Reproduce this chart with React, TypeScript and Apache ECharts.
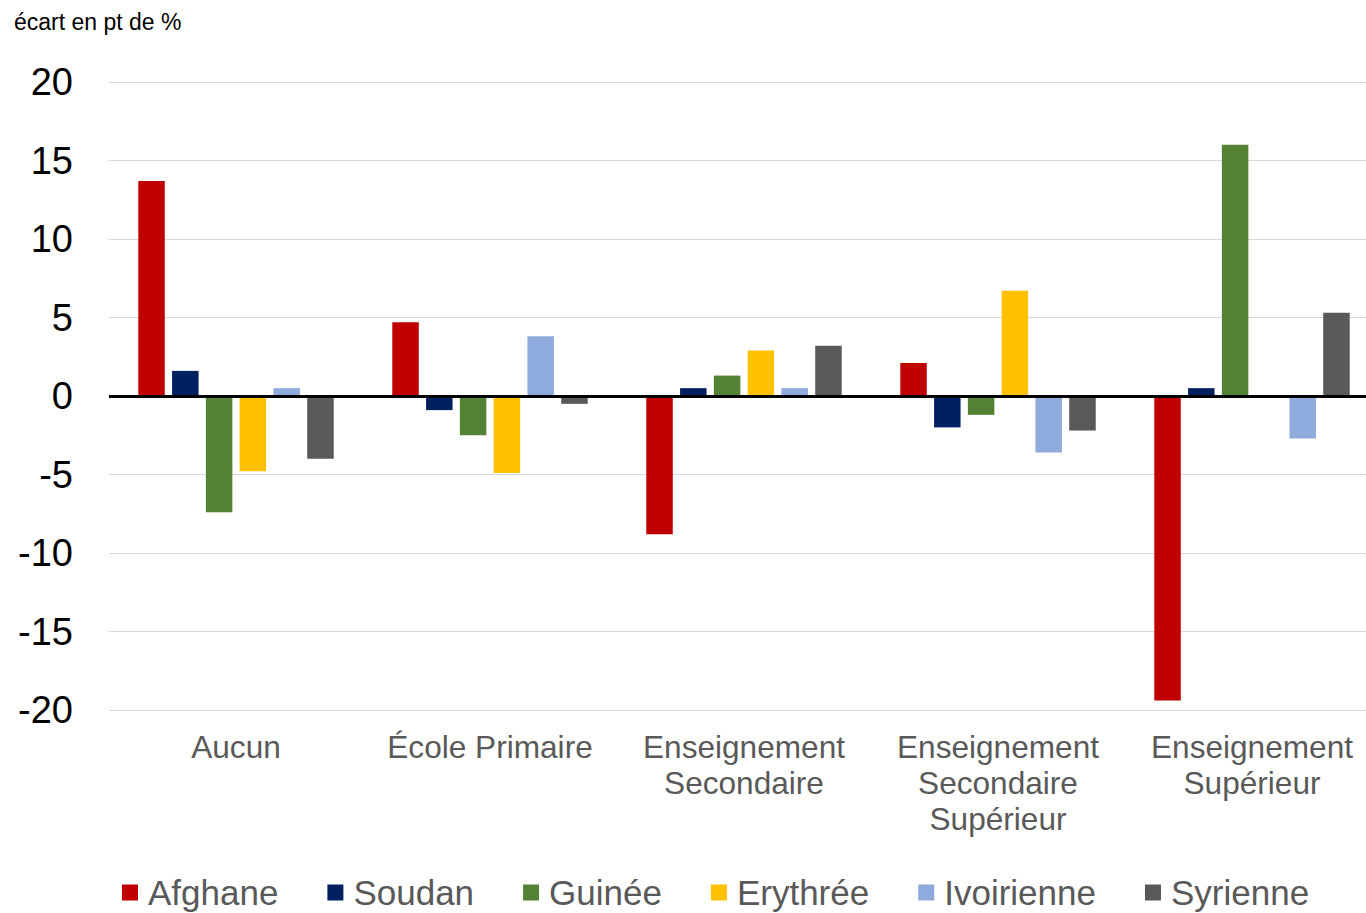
import React, { useEffect, useRef } from "react";
import * as echarts from "echarts";

const categories = [
  "Aucun",
  "École Primaire",
  "Enseignement\nSecondaire",
  "Enseignement\nSecondaire\nSupérieur",
  "Enseignement\nSupérieur",
];

const seriesNames = ["Afghane", "Soudan", "Guinée", "Erythrée", "Ivoirienne", "Syrienne"];
const seriesColors = ["#C00000", "#002060", "#548235", "#FFC000", "#8FAADC", "#595959"];

const afghane = [13.7, 4.7, -8.8, 2.1, -19.4];
const soudan = [1.6, -0.9, 0.5, -2.0, 0.5];
const guinee = [-7.4, -2.5, 1.3, -1.2, 16.0];
const erythree = [-4.8, -4.9, 2.9, 6.7, -0.1];
const ivoirienne = [0.5, 3.8, 0.5, -3.6, -2.7];
const syrienne = [-4.0, -0.5, 3.2, -2.2, 5.3];

const seriesValues = [afghane, soudan, guinee, erythree, ivoirienne, syrienne];

const yTicks = { min: -20, max: 20, interval: 5 };

const FONT = "'Liberation Sans', Arial, sans-serif";

export default function App() {
  const ref = useRef<HTMLDivElement>(null);

  useEffect(() => {
    if (!ref.current) return;
    const chart = echarts.init(ref.current, undefined, { renderer: "svg" });
    const series: any[] = seriesNames.map((name, i) => ({
      name,
      type: "bar",
      data: seriesValues[i],
      barWidth: 26.5,
      barGap: "27.5%",
      itemStyle: { color: seriesColors[i] },
      ...(i === 0
        ? {
            markLine: {
              silent: true,
              symbol: ["none", "none"],
              label: { show: false },
              lineStyle: { color: "#000", width: 3, type: "solid" },
              data: [{ yAxis: 0 }],
              z: 10,
            },
          }
        : {}),
    }));

    chart.setOption({
      animation: false,
      textStyle: { fontFamily: FONT },
      title: {
        text: "écart en pt de %",
        left: 9,
        top: 5,
        textStyle: { fontFamily: FONT, fontSize: 23, fontWeight: "normal", color: "#000" },
      },
      grid: { left: 109, right: 0, top: 82, bottom: 203, containLabel: false },
      legend: {
        left: 117,
        top: 870,
        itemWidth: 16,
        itemHeight: 16,
        itemGap: 49,
        icon: "rect",
        textStyle: { fontFamily: FONT, fontSize: 35, color: "#595959", padding: [0, 0, 0, 5] },
        data: seriesNames,
      },
      xAxis: {
        type: "category",
        data: categories,
        axisLine: { show: false },
        axisTick: { show: false },
        axisLabel: {
          interval: 0,
          fontFamily: FONT,
          fontSize: 31.6,
          lineHeight: 36,
          color: "#595959",
          margin: 19,
        },
      },
      yAxis: {
        type: "value",
        min: yTicks.min,
        max: yTicks.max,
        interval: yTicks.interval,
        axisLine: { show: false },
        axisTick: { show: false },
        splitLine: { lineStyle: { color: "#D9D9D9", width: 1 } },
        axisLabel: { fontFamily: FONT, fontSize: 38, color: "#000", margin: 36 },
      },
      series,
    });
    return () => chart.dispose();
  }, []);

  return (
    <div
      style={{
        position: "fixed",
        left: 0,
        top: 0,
        width: 1366,
        height: 913,
        overflow: "hidden",
        background: "#fff",
      }}
    >
      <div ref={ref} style={{ width: 1379, height: 913 }} />
    </div>
  );
}
